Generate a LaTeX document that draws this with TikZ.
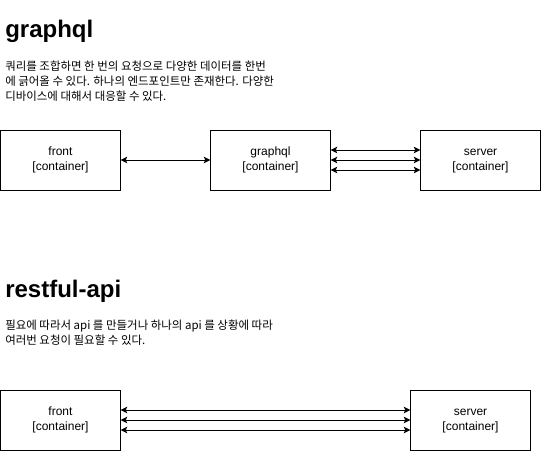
\documentclass[tikz,border=0pt]{standalone}
\usepackage{fontspec}
\setmainfont{Liberation Sans}
\newfontfamily\kr{Noto Sans CJK KR}
\usetikzlibrary{arrows.meta}
\newcommand{\bl}[2]{\strut #1\\\strut #2}
\begin{document}
\begin{tikzpicture}[x=0.75pt,y=-0.75pt,
  box/.style={draw,line width=0.75pt,minimum width=90pt,minimum height=45pt,inner sep=0pt,outer sep=0pt,align=center,font=\fontsize{9pt}{11.5pt}\selectfont},
  conn/.style={line width=0.75pt,{Stealth[length=5pt,width=4.8pt,inset=1pt]}-{Stealth[length=5pt,width=4.8pt,inset=1pt]}},
  head/.style={anchor=base west,inner sep=0pt,font=\fontsize{18pt}{20pt}\selectfont\bfseries},
  desc/.style={anchor=north west,inner sep=0pt,align=left,font=\kr\fontsize{8.6pt}{11.25pt}\selectfont}]
\useasboundingbox (0,0) rectangle (541,451);
% graphql section
\node[head] (h1) at (5,37) {graphql};
\node[desc] (d1) at (5,60.5) {쿼리를 조합하면 한 번의 요청으로 다양한 데이터를 한번\\에 긁어올 수 있다. 하나의 엔드포인트만 존재한다. 다양한\\디바이스에 대해서 대응할 수 있다.};
\node[box] (f1) at (60.5,160) {\bl{front}{[container]}};
\node[box] (g1) at (270.5,160) {\bl{graphql}{[container]}};
\node[box] (s1) at (480.5,160) {\bl{server}{[container]}};
\draw[conn] (f1.east) -- (g1.west);
\draw[conn] ([yshift=7.5pt]g1.east) -- ([yshift=7.5pt]s1.west);
\draw[conn] (g1.east) -- (s1.west);
\draw[conn] ([yshift=-7.5pt]g1.east) -- ([yshift=-7.5pt]s1.west);
% restful section
\node[head] (h2) at (5,297) {restful-api};
\node[desc] (d2) at (5,320) {필요에 따라서 api 를 만들거나 하나의 api 를 상황에 따라\\여러번 요청이 필요할 수 있다.};
\node[box] (f2) at (60.5,420) {\bl{front}{[container]}};
\node[box] (s2) at (470.5,420) {\bl{server}{[container]}};
\draw[conn] ([yshift=7.5pt]f2.east) -- ([yshift=7.5pt]s2.west);
\draw[conn] (f2.east) -- (s2.west);
\draw[conn] ([yshift=-7.5pt]f2.east) -- ([yshift=-7.5pt]s2.west);
\end{tikzpicture}
\end{document}
